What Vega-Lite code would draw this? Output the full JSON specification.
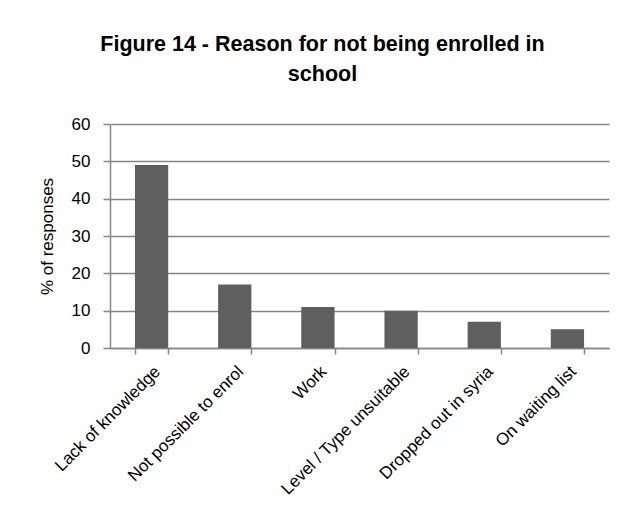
{
  "$schema": "https://vega.github.io/schema/vega-lite/v6.json",
  "width": 499,
  "height": 224,
  "autosize": {"type": "none"},
  "padding": {"left": 110, "top": 124, "right": 24, "bottom": 169},
  "background": "white",
  "title": {
    "text": ["Figure 14 - Reason for not being enrolled in", "school"],
    "font": "Liberation Sans",
    "fontSize": 21.5,
    "fontWeight": "bold",
    "color": "#000000",
    "lineHeight": 30,
    "anchor": "middle",
    "offset": 30,
    "dx": -37
  },
  "data": {
    "values": [
      {"reason": "Lack of knowledge", "pct": 49},
      {"reason": "Not possible to enrol", "pct": 17},
      {"reason": "Work", "pct": 11},
      {"reason": "Level / Type unsuitable", "pct": 10},
      {"reason": "Dropped out in syria", "pct": 7},
      {"reason": "On waiting list", "pct": 5}
    ]
  },
  "mark": {"type": "bar", "color": "#5f5f5f"},
  "encoding": {
    "x": {
      "field": "reason",
      "type": "nominal",
      "sort": null,
      "scale": {"paddingInner": 0.6, "paddingOuter": 0.3},
      "axis": {
        "title": null,
        "labelAngle": -45,
        "labelAlign": "right",
        "labelBaseline": "top",
        "labelFont": "Liberation Sans",
        "labelFontSize": 17,
        "labelColor": "#000000",
        "labelPadding": 9,
        "labelLimit": 0,
        "tickBand": "extent",
        "tickSize": 6,
        "tickColor": "#868686",
        "tickWidth": 1.5,
        "domainColor": "#868686",
        "domainWidth": 1.5,
        "grid": false
      }
    },
    "y": {
      "field": "pct",
      "type": "quantitative",
      "scale": {"domain": [0, 60]},
      "axis": {
        "title": "% of responses",
        "titleFont": "Liberation Sans",
        "titleFontSize": 17,
        "titleFontWeight": "normal",
        "titleColor": "#000000",
        "titlePadding": 15,
        "values": [0, 10, 20, 30, 40, 50, 60],
        "labelFont": "Liberation Sans",
        "labelFontSize": 17,
        "labelColor": "#000000",
        "labelPadding": 13,
        "tickSize": 7,
        "tickColor": "#868686",
        "tickWidth": 1.5,
        "domainColor": "#868686",
        "domainWidth": 1.5,
        "grid": true,
        "gridColor": "#868686",
        "gridWidth": 1.5
      }
    }
  },
  "config": {"view": {"stroke": null}}
}
